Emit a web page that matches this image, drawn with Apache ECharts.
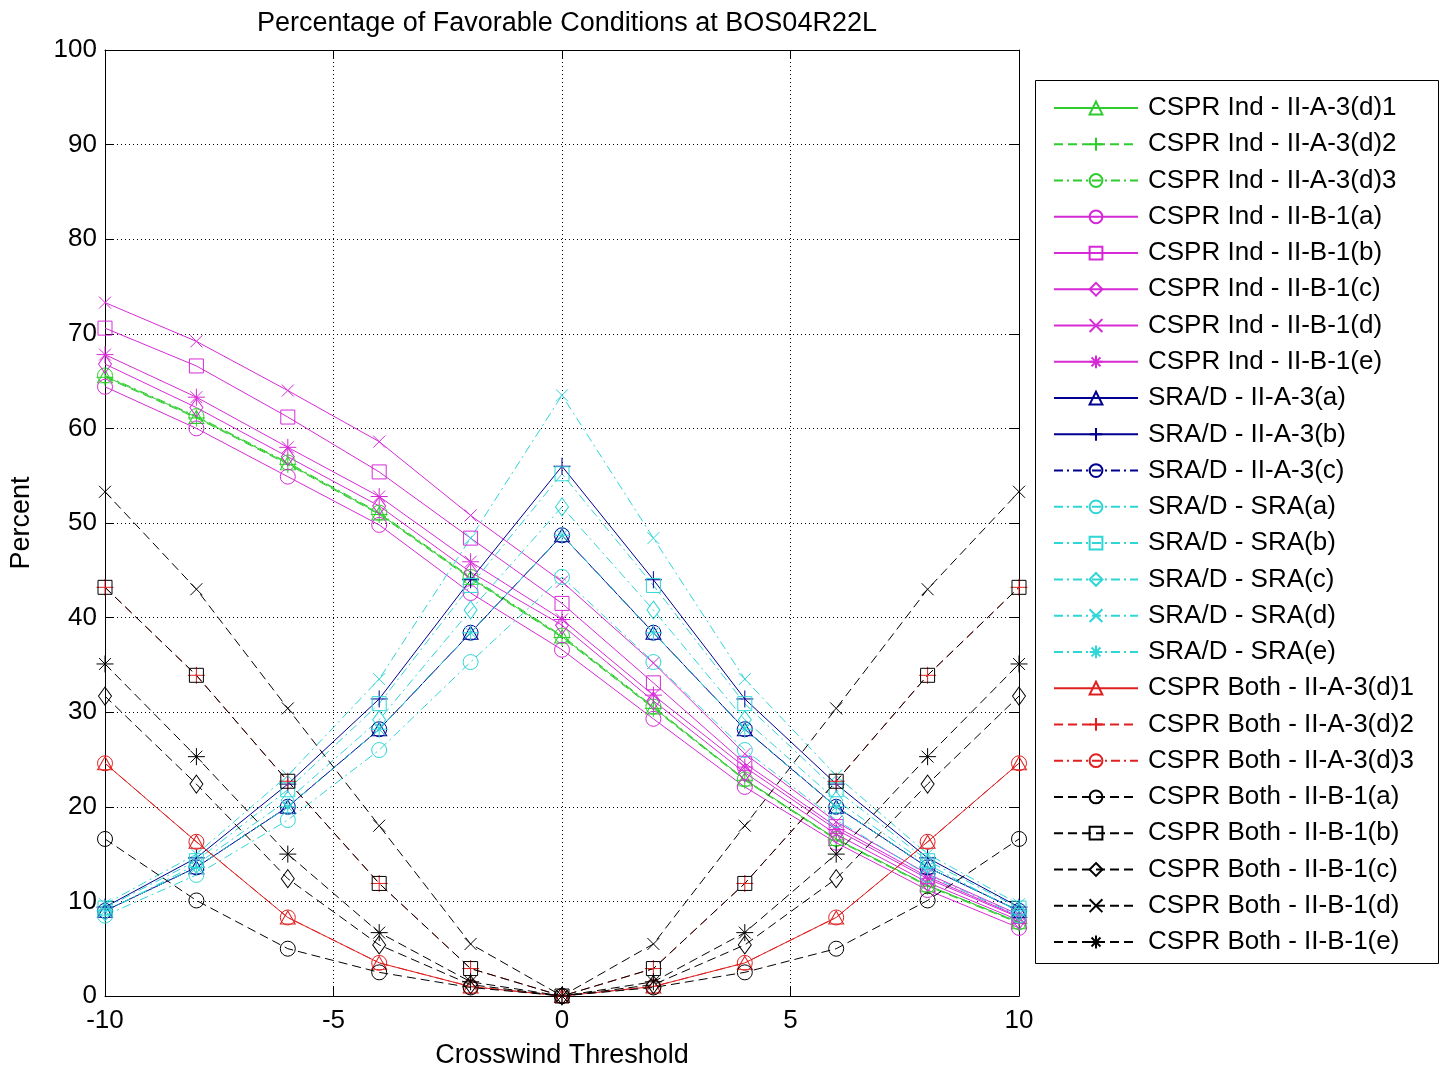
<!DOCTYPE html>
<html>
<head>
<meta charset="utf-8">
<script src="https://cdn.jsdelivr.net/npm/echarts@6/dist/echarts.min.js"></script>
<style>
  html, body { margin: 0; padding: 0; background: #fff; }
  #chart { width: 1440px; height: 1069px; }
</style>
</head>
<body>
<div id="chart"></div>
<script>
// ---- Data ----
const xs = [-10, -8, -6, -4, -2, 0, 2, 4, 6, 8, 10];
const xTicks = [-10, -5, 0, 5, 10];
const yTicks = [0, 10, 20, 30, 40, 50, 60, 70, 80, 90, 100];

const cspr_ind_A3d1 = [65.5, 61.2, 56.3, 51.0, 44.2, 38.0, 30.5, 22.9, 16.6, 11.7, 7.8];
const cspr_ind_A3d2 = [65.4, 61.1, 56.2, 50.9, 44.1, 37.9, 30.4, 22.8, 16.5, 11.6, 7.7];
const cspr_ind_A3d3 = [65.6, 61.3, 56.4, 51.1, 44.3, 38.1, 30.6, 22.9, 16.6, 11.7, 7.8];
const cspr_ind_B1a = [64.4, 60.0, 54.9, 49.8, 42.6, 36.6, 29.3, 22.1, 16.2, 11.2, 7.2];
const cspr_ind_B1b = [70.6, 66.6, 61.2, 55.4, 48.4, 41.5, 33.1, 24.6, 17.9, 12.6, 8.4];
const cspr_ind_B1c = [66.8, 62.2, 57.0, 51.8, 44.8, 39.2, 31.2, 23.6, 17.1, 12.0, 8.0];
const cspr_ind_B1d = [73.3, 69.2, 64.0, 58.6, 50.8, 43.8, 35.2, 25.6, 18.4, 12.9, 8.6];
const cspr_ind_B1e = [67.8, 63.3, 58.0, 52.8, 45.9, 39.8, 31.8, 24.2, 17.6, 12.4, 8.3];

const srad_A3a = [9.0, 13.6, 20.0, 28.2, 38.4, 48.7, 38.4, 28.2, 20.0, 13.6, 9.0];
const srad_A3b = [9.4, 14.6, 22.4, 31.4, 44.0, 56.0, 44.0, 31.4, 22.4, 14.6, 9.4];
const srad_A3c = [9.0, 13.6, 20.0, 28.2, 38.4, 48.7, 38.4, 28.2, 20.0, 13.6, 9.0];
const srad_SRAa = [8.5, 12.8, 18.6, 26.0, 35.3, 44.3, 35.3, 26.0, 18.6, 12.8, 8.5];
const srad_SRAb = [9.3, 14.3, 21.8, 30.9, 43.4, 55.2, 43.4, 30.9, 21.8, 14.3, 9.3];
const srad_SRAc = [8.9, 13.9, 20.7, 29.2, 40.8, 51.7, 40.8, 29.2, 20.7, 13.9, 8.9];
const srad_SRAd = [9.7, 15.0, 23.3, 33.5, 48.4, 63.5, 48.4, 33.5, 23.3, 15.0, 9.7];
const srad_SRAe = [9.0, 13.6, 20.0, 28.2, 38.4, 48.7, 38.4, 28.2, 20.0, 13.6, 9.0];

const cspr_both_A3d1 = [24.6, 16.3, 8.3, 3.5, 1.0, 0, 1.0, 3.5, 8.3, 16.3, 24.6];
const cspr_both_A3d2 = [43.2, 33.9, 22.7, 11.9, 2.9, 0, 2.9, 11.9, 22.7, 33.9, 43.2];
const cspr_both_A3d3 = [24.6, 16.3, 8.3, 3.5, 1.0, 0, 1.0, 3.5, 8.3, 16.3, 24.6];
const cspr_both_B1a = [16.6, 10.1, 5.0, 2.5, 0.9, 0, 0.9, 2.5, 5.0, 10.1, 16.6];
const cspr_both_B1b = [43.2, 33.9, 22.7, 11.9, 2.9, 0, 2.9, 11.9, 22.7, 33.9, 43.2];
const cspr_both_B1c = [31.7, 22.4, 12.4, 5.4, 1.2, 0, 1.2, 5.4, 12.4, 22.4, 31.7];
const cspr_both_B1d = [53.3, 43.0, 30.4, 18.0, 5.5, 0, 5.5, 18.0, 30.4, 43.0, 53.3];
const cspr_both_B1e = [35.1, 25.3, 15.0, 6.7, 1.5, 0, 1.5, 6.7, 15.0, 25.3, 35.1];

// ---- Styles ----
const GREEN = '#2ecc2e', MAG = '#d62ad6', NAVY = '#000090', CYAN = '#2fd6d6', RED = '#e02020', BLACK = '#000000';
const SOLID = 'solid', DASH = [9, 5], DASHDOT = [9, 4, 2, 4];
const SYM = {
  tri: { s: 'triangle', size: [15, 13] },
  plus: { s: 'path://M5,0L5,10M0,5L10,5', size: 17 },
  circ: { s: 'circle', size: 15 },
  sq: { s: 'rect', size: 14 },
  dia: { s: 'diamond', size: [13, 18] },
  x: { s: 'path://M0,0L10,10M10,0L0,10', size: 12 },
  star: { s: 'path://M5,0L5,10M0,5L10,5M1.5,1.5L8.5,8.5M8.5,1.5L1.5,8.5', size: 17 }
};

const defs = [
  ['CSPR Ind - II-A-3(d)1', cspr_ind_A3d1, GREEN, SOLID, 'tri'],
  ['CSPR Ind - II-A-3(d)2', cspr_ind_A3d2, GREEN, DASH, 'plus'],
  ['CSPR Ind - II-A-3(d)3', cspr_ind_A3d3, GREEN, DASHDOT, 'circ'],
  ['CSPR Ind - II-B-1(a)', cspr_ind_B1a, MAG, SOLID, 'circ'],
  ['CSPR Ind - II-B-1(b)', cspr_ind_B1b, MAG, SOLID, 'sq'],
  ['CSPR Ind - II-B-1(c)', cspr_ind_B1c, MAG, SOLID, 'dia'],
  ['CSPR Ind - II-B-1(d)', cspr_ind_B1d, MAG, SOLID, 'x'],
  ['CSPR Ind - II-B-1(e)', cspr_ind_B1e, MAG, SOLID, 'star'],
  ['SRA/D - II-A-3(a)', srad_A3a, NAVY, SOLID, 'tri'],
  ['SRA/D - II-A-3(b)', srad_A3b, NAVY, SOLID, 'plus'],
  ['SRA/D - II-A-3(c)', srad_A3c, NAVY, DASHDOT, 'circ'],
  ['SRA/D - SRA(a)', srad_SRAa, CYAN, DASHDOT, 'circ'],
  ['SRA/D - SRA(b)', srad_SRAb, CYAN, DASHDOT, 'sq'],
  ['SRA/D - SRA(c)', srad_SRAc, CYAN, DASHDOT, 'dia'],
  ['SRA/D - SRA(d)', srad_SRAd, CYAN, DASHDOT, 'x'],
  ['SRA/D - SRA(e)', srad_SRAe, CYAN, DASHDOT, 'star'],
  ['CSPR Both - II-A-3(d)1', cspr_both_A3d1, RED, SOLID, 'tri'],
  ['CSPR Both - II-A-3(d)2', cspr_both_A3d2, RED, DASH, 'plus'],
  ['CSPR Both - II-A-3(d)3', cspr_both_A3d3, RED, DASHDOT, 'circ'],
  ['CSPR Both - II-B-1(a)', cspr_both_B1a, BLACK, DASH, 'circ'],
  ['CSPR Both - II-B-1(b)', cspr_both_B1b, BLACK, DASH, 'sq'],
  ['CSPR Both - II-B-1(c)', cspr_both_B1c, BLACK, DASH, 'dia'],
  ['CSPR Both - II-B-1(d)', cspr_both_B1d, BLACK, DASH, 'x'],
  ['CSPR Both - II-B-1(e)', cspr_both_B1e, BLACK, DASH, 'star']
];

const FONT = "'Liberation Sans', Arial, sans-serif";

const series = defs.map(([name, vals, col, dash, sym]) => ({
  name: name,
  type: 'line',
  xAxisIndex: 0,
  yAxisIndex: 0,
  data: xs.map((x, i) => [x, vals[i]]),
  symbol: SYM[sym].s,
  symbolSize: SYM[sym].size,
  symbolKeepAspect: true,
  showAllSymbol: true,
  lineStyle: { color: col, width: 1, type: dash },
  itemStyle: { color: 'rgba(255,255,255,0)', borderColor: col, borderWidth: 1 },
  emphasis: { disabled: true },
  animation: false,
  z: 3
}));

const chart = echarts.init(document.getElementById('chart'), null, { renderer: 'canvas' });

const axisCommon = {
  axisLine: { show: true, onZero: false, lineStyle: { color: '#000', width: 1 } },
  axisTick: { show: true, inside: true, length: 9, lineStyle: { color: '#000' } }
};

chart.setOption({
  backgroundColor: '#ffffff',
  animation: false,
  textStyle: { fontFamily: FONT },
  title: {
    text: 'Percentage of Favorable Conditions at BOS04R22L',
    left: 562,
    textAlign: 'center',
    top: 5,
    textStyle: { fontFamily: FONT, fontSize: 27, fontWeight: 'normal', color: '#000' }
  },
  grid: { left: 105, right: 421, top: 50, bottom: 73, containLabel: false, outerBoundsMode: 'none' },
  xAxis: [
    Object.assign({
      type: 'value', min: -10, max: 10, interval: 5, position: 'bottom',
      name: 'Crosswind Threshold', nameLocation: 'middle', nameGap: 46,
      nameTextStyle: { fontFamily: FONT, fontSize: 27, color: '#000' },
      axisLabel: { fontFamily: FONT, fontSize: 26, color: '#000', margin: 12,
        formatter: v => (xTicks.indexOf(v) >= 0 ? String(v) : '') },
      splitLine: { show: true, lineStyle: { color: '#000', type: [1, 3], width: 1 } }
    }, axisCommon),
    Object.assign({
      type: 'value', min: -10, max: 10, interval: 5, position: 'top',
      axisLabel: { show: false }, splitLine: { show: false }
    }, axisCommon)
  ],
  yAxis: [
    Object.assign({
      type: 'value', min: 0, max: 100, interval: 10, position: 'left',
      name: 'Percent', nameLocation: 'middle', nameGap: 70, nameRotate: 90,
      nameTextStyle: { fontFamily: FONT, fontSize: 27, color: '#000' },
      axisLabel: { fontFamily: FONT, fontSize: 26, color: '#000', margin: 8,
        formatter: v => (yTicks.indexOf(v) >= 0 ? String(v) : '') },
      splitLine: { show: true, lineStyle: { color: '#000', type: [1, 3], width: 1 } }
    }, axisCommon),
    Object.assign({
      type: 'value', min: 0, max: 100, interval: 10, position: 'right',
      axisLabel: { show: false }, splitLine: { show: false }
    }, axisCommon)
  ],
  legend: {
    orient: 'vertical',
    left: 1053,
    top: 93,
    padding: 0,
    itemWidth: 84,
    itemHeight: 16,
    itemGap: 6.26,
    selectedMode: false,
    textStyle: { fontFamily: FONT, fontSize: 26, color: '#000', lineHeight: 30, padding: [0, 0, 0, 5] },
    data: defs.map(d => d[0])
  },
  graphic: [{
    type: 'rect',
    shape: { x: 1035.5, y: 80.5, width: 403, height: 883 },
    style: { fill: 'none', stroke: '#000', lineWidth: 1 },
    silent: true,
    z: 1
  }],
  series: series
});
</script>
</body>
</html>
